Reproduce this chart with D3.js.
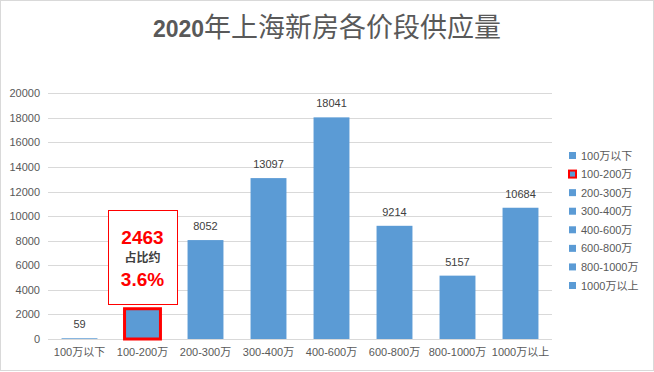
<!DOCTYPE html>
<html><head><meta charset="utf-8">
<script src="https://cdn.jsdelivr.net/npm/d3@7"></script>
<style>
html,body{margin:0;padding:0;background:#fff;}
svg{display:block;font-family:"Liberation Sans","Noto Sans CJK SC",sans-serif;}
</style></head>
<body>
<svg id="c" width="654" height="372"></svg>
<script>
const categories = ["100万以下","100-200万","200-300万","300-400万","400-600万","600-800万","800-1000万","1000万以上"];
const values = [59, 2463, 8052, 13097, 18041, 9214, 5157, 10684];
const yTicks = [0,2000,4000,6000,8000,10000,12000,14000,16000,18000,20000];
const titleYear = "2020";
const titleRest = "年上海新房各价段供应量";
const highlight = "100-200万";
const noteLines = ["2463","占比约","3.6%"];

const svg = d3.select("#c");
const W = 654, H = 372;
const barColor = "#5B9BD5", gridColor = "#D9D9D9", textColor = "#595959";
const cjk = '"Noto Sans CJK SC","Liberation Sans",sans-serif';

svg.append("rect").attr("x",0.5).attr("y",0.5).attr("width",W-1).attr("height",H-2)
  .attr("fill","#fff").attr("stroke","#D9D9D9");

const t = svg.append("text").attr("x",327).attr("y",37).attr("text-anchor","middle").attr("fill",textColor);
t.append("tspan").attr("font-size",23).attr("font-weight","bold")
  .style("font-family",'"Liberation Sans",sans-serif').text(titleYear);
t.append("tspan").attr("font-size",27).attr("font-weight","normal")
  .style("font-family",cjk).text(titleRest);

const x = d3.scaleBand().domain(categories).range([48,552]).paddingInner(0.43).paddingOuter(0.215);
const y = d3.scaleLinear().domain([0,20000]).range([339,93.3]);

const g = svg.append("g");
g.selectAll("line.grid").data(yTicks).join("line")
  .attr("x1",48).attr("x2",552).attr("y1",d=>Math.round(y(d))+0.5).attr("y2",d=>Math.round(y(d))+0.5)
  .attr("stroke",gridColor).attr("stroke-width",1);

const yAxis = d3.axisLeft(y).tickValues(yTicks).tickSize(0).tickPadding(8).tickFormat(d3.format("d"));
const ya = svg.append("g").attr("transform","translate(48,0)").call(yAxis);
ya.select(".domain").remove();
ya.selectAll("text").attr("font-size",11).attr("fill",textColor).style("font-family",'"Liberation Sans",sans-serif');

const xAxis = d3.axisBottom(x).tickSize(0).tickPadding(9);
const xa = svg.append("g").attr("transform","translate(0,339)").call(xAxis);
xa.select(".domain").remove();
xa.selectAll("text").attr("font-size",11).attr("fill",textColor).style("font-family",'"Liberation Sans","Noto Sans CJK SC",sans-serif');

svg.selectAll("rect.bar").data(categories).join("rect").attr("class","bar")
  .attr("x",d=>x(d)).attr("width",x.bandwidth())
  .attr("y",(d,i)=>y(values[i])).attr("height",(d,i)=>y(0)-y(values[i]))
  .attr("fill",barColor)
  .attr("stroke",d=>d===highlight?"#FF0000":"none").attr("stroke-width",3);

svg.selectAll("text.val").data(categories.filter(d=>d!==highlight)).join("text")
  .attr("x",d=>x(d)+x.bandwidth()/2)
  .attr("y",d=>y(values[categories.indexOf(d)])-10)
  .attr("text-anchor","middle").attr("font-size",11).attr("fill","#404040")
  .style("font-family",'"Liberation Sans",sans-serif')
  .text(d=>values[categories.indexOf(d)]);

const cx = x(highlight)+x.bandwidth()/2;
svg.append("rect").attr("x",108.5).attr("y",210.5).attr("width",69).attr("height",94)
  .attr("fill","#fff").attr("stroke","#FF0000").attr("stroke-width",1);
svg.append("text").attr("x",cx).attr("y",244).attr("text-anchor","middle")
  .attr("font-size",19).attr("font-weight","bold").attr("fill","#FF0000")
  .style("font-family",'"Liberation Sans",sans-serif').text(noteLines[0]);
svg.append("text").attr("x",cx).attr("y",262).attr("text-anchor","middle")
  .attr("font-size",12).attr("font-weight","bold").attr("fill","#404040")
  .style("font-family",cjk).text(noteLines[1]);
svg.append("text").attr("x",cx).attr("y",286).attr("text-anchor","middle")
  .attr("font-size",19).attr("font-weight","bold").attr("fill","#FF0000")
  .style("font-family",'"Liberation Sans",sans-serif').text(noteLines[2]);

const lg = svg.append("g");
const ly = d3.scalePoint().domain(categories).range([155,285]);
categories.forEach(c=>{
  const yy = ly(c);
  lg.append("rect").attr("x",569).attr("y",yy-3).attr("width",7).attr("height",7)
    .attr("fill",barColor)
    .attr("stroke",c===highlight?"#FF0000":"none").attr("stroke-width",2);
  lg.append("text").attr("x",581).attr("y",yy+4.5).attr("font-size",11).attr("fill",textColor)
    .style("font-family",'"Liberation Sans","Noto Sans CJK SC",sans-serif').text(c);
});
</script>
</body></html>
